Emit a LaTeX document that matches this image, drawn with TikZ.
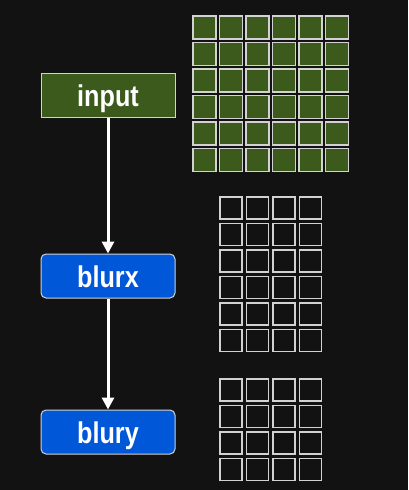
\documentclass[tikz,border=0pt]{standalone}
\usepackage{fontspec}
\newfontfamily\boxfont{Liberation Sans}[FakeStretch=0.84]
\usetikzlibrary{arrows.meta,positioning}
\definecolor{bgdark}{HTML}{121212}
\definecolor{leafgreen}{HTML}{3C5A1B}
\definecolor{funcblue}{HTML}{0057D8}
\definecolor{edgegray}{HTML}{D2D2D2}

\begin{document}
\begin{tikzpicture}[x=1pt, y=-1pt, >={Triangle[width=12pt,length=12pt]},
    box/.style={draw=edgegray, line width=1pt, minimum width=134pt,
                minimum height=44pt, inner sep=0pt, text=white,
                text height=23pt, text depth=0pt,
                font=\boxfont\bfseries\fontsize{30}{30}\selectfont},
    func/.style={box, fill=funcblue, rounded corners=5pt},
    pix/.style={draw=edgegray, line width=1.5pt},
    flow/.style={->, draw=white, line width=3pt}]
  \fill[bgdark] (0,0) rectangle (408,490);
  \node[box, fill=leafgreen] (input) at (108,95) {input};
  \node[func, below=136pt of input] (blurx) {blurx};
  \node[func, below=111pt of blurx] (blury) {blury};
  \draw[flow] (input) -- (blurx);
  \draw[flow] (blurx) -- (blury);
  % buffers
  \foreach \i in {0,...,5}
    \foreach \j in {0,...,5}
      \draw[pix, fill=leafgreen] (193+26.5*\i,16+26.5*\j) rectangle ++(23,23);
  \foreach \i in {0,...,3}
    \foreach \j in {0,...,5}
      \draw[pix] (220+26.5*\i,197+26.5*\j) rectangle ++(22,22);
  \foreach \i in {0,...,3}
    \foreach \j in {0,...,3}
      \draw[pix] (220+26.5*\i,379+26.5*\j) rectangle ++(22,22);
\end{tikzpicture}
\end{document}
